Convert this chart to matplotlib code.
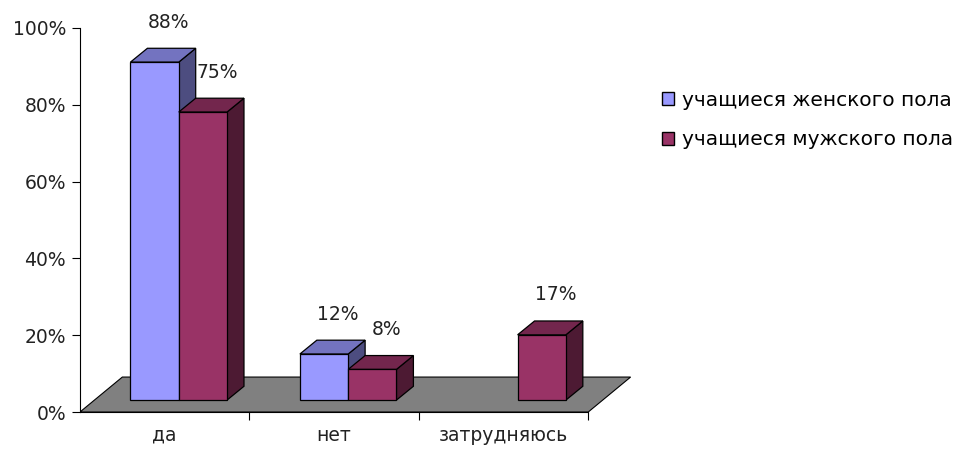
import matplotlib.pyplot as plt
from matplotlib.patches import Polygon, Patch

categories = ['да', 'нет', 'затрудняюсь']
series_names = ['учащиеся женского пола', 'учащиеся мужского пола']
female = [88, 12, None]
male = [75, 8, 17]
y_ticks = [0, 20, 40, 60, 80, 100]

front_colors = ['#9999ff', '#993366']
top_colors = ['#7373c0', '#73264d']
side_colors = ['#4d4d80', '#4d1a33']

plt.rcParams['font.family'] = ['DejaVu Sans']
FS = 13.5
TXT = '#222222'

fig = plt.figure(figsize=(9.59, 4.54), dpi=100)
ax = fig.add_axes([0.0834, 0.0925, 0.583, 0.846])
ax.set_xlim(0, 3.3)
ax.set_ylim(0, 100)

# 3d look: floor depth, bar offset into the floor, bar depth
floor_dx, floor_dy = 0.25, 9.1
shift_x, shift_y = 0.083, 3.1
dep_x, dep_y = 0.1, 3.6
w = 0.285

floor = Polygon([(0, 0), (3, 0), (3 + floor_dx, floor_dy), (floor_dx, floor_dy)],
                closed=True, facecolor='#808080', edgecolor='black', lw=0.8, zorder=1)
ax.add_patch(floor)


def bar3d(x0, h, k):
    x1 = x0 + w
    y0 = shift_y
    y1 = shift_y + h
    side = [(x1, y0), (x1 + dep_x, y0 + dep_y), (x1 + dep_x, y1 + dep_y), (x1, y1)]
    top = [(x0, y1), (x1, y1), (x1 + dep_x, y1 + dep_y), (x0 + dep_x, y1 + dep_y)]
    front = [(x0, y0), (x1, y0), (x1, y1), (x0, y1)]
    for pts, c in [(side, side_colors[k]), (top, top_colors[k]), (front, front_colors[k])]:
        ax.add_patch(Polygon(pts, closed=True, facecolor=c, edgecolor='black',
                             lw=0.9, zorder=2))
    ax.annotate(f'{h}%', (x0 + w / 2 + dep_x, y1 + dep_y), xytext=(-2, 12),
                textcoords='offset points', ha='center', va='bottom',
                fontsize=FS, color=TXT, zorder=3)


for i in range(len(categories)):
    for k, vals in enumerate([female, male]):
        v = vals[i]
        if v is None:
            continue
        x0 = i + 0.5 - w + k * w + shift_x
        bar3d(x0, v, k)

for s in ['top', 'right']:
    ax.spines[s].set_visible(False)
ax.spines['left'].set_bounds(0, 100)
ax.spines['bottom'].set_bounds(0, 3)
ax.spines['bottom'].set_zorder(0)

ax.set_yticks(y_ticks)
ax.set_yticklabels([f'{t}%' for t in y_ticks], fontsize=FS, color=TXT)
ax.set_xticks([1, 2, 3])
ax.set_xticklabels([])
ax.set_xticks([0.5, 1.5, 2.5], minor=True)
ax.set_xticklabels(categories, minor=True, fontsize=FS, color=TXT)
ax.tick_params(axis='x', which='minor', length=0, pad=10)
ax.tick_params(axis='x', which='major', length=6, direction='out')
ax.tick_params(axis='y', length=6, direction='out', pad=4)

handles = [Patch(facecolor=front_colors[k], edgecolor='black', lw=1) for k in range(2)]
fig.legend(handles, series_names, loc='upper left', bbox_to_anchor=(0.68, 0.822),
           frameon=False, fontsize=14.5, handlelength=0.6, handleheight=0.6,
           handletextpad=0.4, labelspacing=1.02, borderpad=0)

fig.savefig('out.png', dpi=100)
